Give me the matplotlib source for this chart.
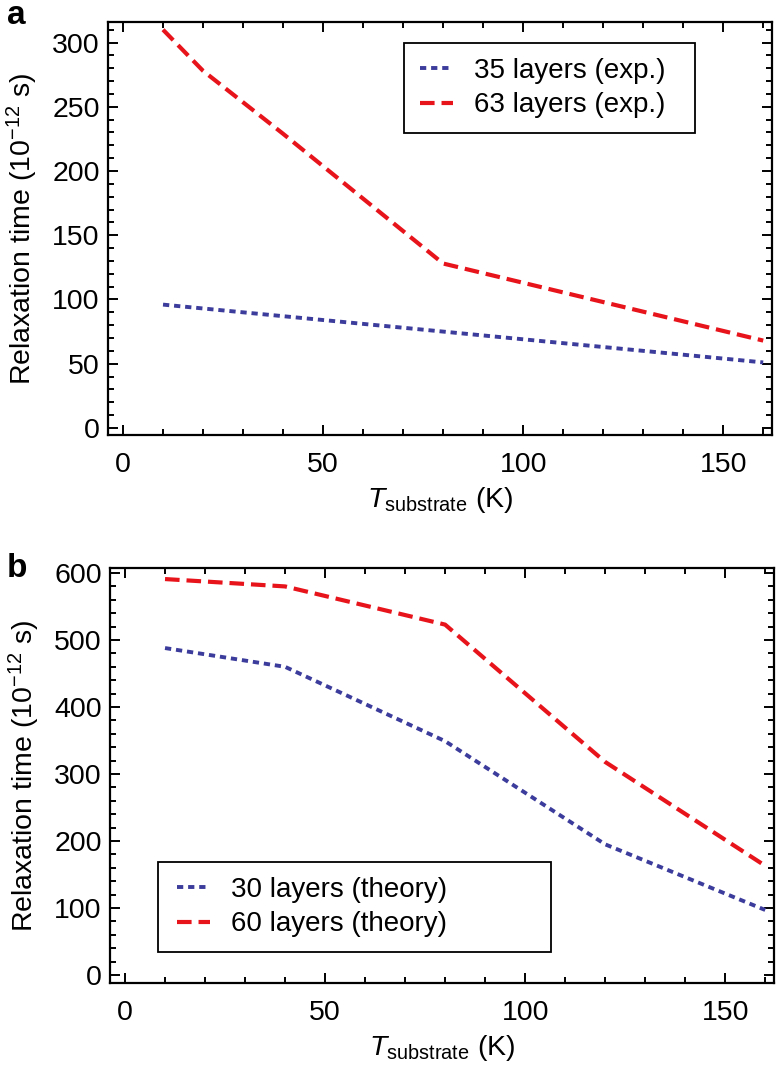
import numpy as np
import matplotlib
matplotlib.use("Agg")
import matplotlib.pyplot as plt
from matplotlib.ticker import MultipleLocator
from matplotlib.patches import Rectangle

plt.rcParams['font.family'] = ['Liberation Sans', 'DejaVu Sans']
plt.rcParams['mathtext.fontset'] = 'custom'
plt.rcParams['mathtext.rm'] = 'Liberation Sans'
plt.rcParams['mathtext.it'] = 'Liberation Sans:italic'
plt.rcParams['lines.scale_dashes'] = False

# panel a (experiment)
t_a = [10, 20, 40, 80, 100, 120, 160]
exp35 = [96, 93, 87, 75, 69, 63, 51]
exp63 = [310, 278, 229, 128, 113, 98, 68]

# panel b (theory)
t_b = [10, 40, 80, 120, 160]
th30 = [488, 460, 349, 195, 97]
th60 = [591, 580, 523, 318, 163]

blue = "#3c3c9c"
red = "#e8141c"
W, H = 781, 1072
FS = 20.5

fig = plt.figure(figsize=(W / 100, H / 100), dpi=100)


def box(l, t, r, b):
    return [l / W, 1 - b / H, (r - l) / W, (b - t) / H]


def style(ax, ymin, ymax, ymaj, ymin_step):
    ax.set_xlim(-3.75, 162.2)
    ax.set_ylim(ymin, ymax)
    ax.xaxis.set_major_locator(MultipleLocator(50))
    ax.xaxis.set_minor_locator(MultipleLocator(10))
    ax.yaxis.set_major_locator(MultipleLocator(ymaj))
    ax.yaxis.set_minor_locator(MultipleLocator(ymin_step))
    ax.tick_params(which='both', direction='in', top=True, right=True, width=1.4)
    ax.tick_params(which='major', length=7, labelsize=FS)
    ax.tick_params(axis='x', which='major', pad=12)
    ax.tick_params(axis='y', which='major', pad=6)
    ax.tick_params(which='minor', length=4)
    for s in ax.spines.values():
        s.set_linewidth(1.6)
    ax.set_xlabel(r"$T_{\mathrm{substrate}}$ (K)", fontsize=FS, labelpad=5)
    ax.set_ylabel(r"Relaxation time (10$^{-12}$ s)", fontsize=FS, labelpad=9)


def legend_box(ax, x0, y0, x1, y1, hx):
    ax.add_patch(Rectangle((x0, y0), x1 - x0, y1 - y0, transform=ax.transAxes,
                           fill=False, edgecolor='black', lw=1.3, zorder=5))
    ax.legend(loc='center left', bbox_to_anchor=(hx, (y0 + y1) / 2), fontsize=FS - 0.5,
              frameon=False, handlelength=1.2, handletextpad=0.75,
              borderpad=0, labelspacing=0.32, borderaxespad=0)


ax1 = fig.add_axes(box(108, 22, 772, 435))
ax1.plot(t_a, exp35, color=blue, lw=2.8, dashes=(4.5, 3.5), label="35 layers (exp.)")
ax1.plot(t_a, exp63, color=red, lw=3.0, dashes=(10.5, 5), label="63 layers (exp.)")
style(ax1, -5.5, 316, 50, 10)
legend_box(ax1, 0.4458, 0.7312, 0.8840, 0.949, (420 - 108) / 664)

ax2 = fig.add_axes(box(110, 568, 774, 983))
ax2.plot(t_b, th30, color=blue, lw=2.8, dashes=(4.5, 3.5), label="30 layers (theory)")
ax2.plot(t_b, th60, color=red, lw=3.0, dashes=(10.5, 5), label="60 layers (theory)")
style(ax2, -12, 607.5, 100, 20)
legend_box(ax2, 0.0723, 0.0747, 0.6642, 0.2916, (177 - 110) / 664)

fig.text(7 / W, 1 - 0.5 / H, "a", fontsize=24, fontweight='bold', va='top', ha='left')
fig.text(7 / W, 1 - 553 / H, "b", fontsize=24, fontweight='bold', va='top', ha='left')

fig.savefig("out.png", dpi=100)
